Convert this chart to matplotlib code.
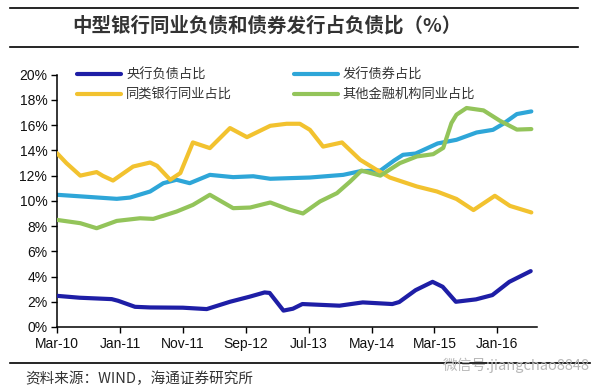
import matplotlib
matplotlib.use("Agg")
import matplotlib.pyplot as plt
from matplotlib.lines import Line2D

# ---- data (month index from Mar-10) ----
tick_pos = [0, 10, 20, 30, 40, 50, 60, 70]
tick_labels = ["Mar-10", "Jan-11", "Nov-11", "Sep-12", "Jul-13", "May-14", "Mar-15", "Jan-16"]
y_ticks = [0, 2, 4, 6, 8, 10, 12, 14, 16, 18, 20]

cb_m = [0, 3.6, 8.7, 9.7, 12.4, 14.8, 20, 23.8, 27.5, 30.6, 33, 33.8, 36, 37.5, 39, 44.9, 48.6, 53.3, 54.4, 57, 59.7, 61.3, 63.4, 66.6, 69.2, 71.9, 75.3]
cb_v = [2.47, 2.32, 2.21, 2.08, 1.6, 1.55, 1.53, 1.42, 2.0, 2.4, 2.74, 2.7, 1.3, 1.45, 1.82, 1.69, 1.95, 1.82, 1.98, 2.92, 3.58, 3.19, 2.0, 2.19, 2.53, 3.58, 4.43]

bond_m = [0, 4.2, 9.5, 11.6, 14.8, 16.9, 19, 21.1, 24.3, 28, 31.2, 33.9, 37, 40.2, 45.5, 48.2, 51.4, 53.6, 55, 57, 60.5, 63.5, 66.7, 69.3, 70.9, 73.1, 75.4]
bond_v = [10.48, 10.34, 10.16, 10.26, 10.74, 11.4, 11.67, 11.4, 12.06, 11.88, 11.95, 11.75, 11.8, 11.85, 12.06, 12.35, 12.4, 13.2, 13.65, 13.75, 14.55, 14.84, 15.42, 15.63, 16.1, 16.88, 17.09]

peer_m = [0, 1.5, 3.7, 6.3, 7.3, 8.9, 12.1, 14.8, 15.9, 18, 19.6, 21.6, 24.3, 27.5, 30.2, 33.9, 36.5, 38.6, 40.2, 42.3, 45.3, 48.2, 50.8, 52.9, 57.2, 60.4, 63.5, 66.2, 69.6, 72, 75.4]
peer_v = [13.78, 12.99, 12.0, 12.28, 11.98, 11.61, 12.72, 13.04, 12.78, 11.67, 12.2, 14.63, 14.18, 15.77, 15.05, 15.95, 16.11, 16.11, 15.63, 14.3, 14.63, 13.25, 12.46, 11.85, 11.14, 10.74, 10.15, 9.27, 10.4, 9.6, 9.08]

other_m = [0, 3.7, 6.3, 9.5, 13.2, 15.3, 19, 21.6, 24.3, 28, 30.7, 33.9, 37, 39.1, 41.8, 44.5, 46.6, 48.4, 51.4, 54.5, 57.2, 59.8, 61.4, 62.7, 63.5, 65.1, 67.8, 70.4, 73.1, 75.4]
other_v = [8.49, 8.23, 7.83, 8.41, 8.62, 8.57, 9.15, 9.68, 10.48, 9.42, 9.47, 9.87, 9.29, 9.0, 9.95, 10.61, 11.53, 12.4, 12.0, 12.99, 13.52, 13.7, 14.2, 16.17, 16.83, 17.36, 17.17, 16.35, 15.65, 15.69]

names = ["央行负债占比", "同类银行同业占比", "发行债券占比", "其他金融机构同业占比"]
colors = ["#1e1ea6", "#f2c22f", "#2ea6d8", "#93c45a"]

CJK = ["Noto Sans CJK SC", "DejaVu Sans"]
LAT = ["Liberation Sans", "DejaVu Sans"]

fig = plt.figure(figsize=(5.94, 3.9), dpi=100)
fig.patch.set_facecolor("white")
ax = fig.add_axes([57 / 594, 1 - 327 / 390, 480 / 594, (327 - 74.7) / 390])

lw = 3.0
l_cb, = ax.plot(cb_m, cb_v, color=colors[0], lw=lw, solid_capstyle="round", solid_joinstyle="round", zorder=4)
l_bond, = ax.plot(bond_m, bond_v, color=colors[2], lw=lw, solid_capstyle="round", solid_joinstyle="round", zorder=2)
l_peer, = ax.plot(peer_m, peer_v, color=colors[1], lw=lw, solid_capstyle="round", solid_joinstyle="round", zorder=3)
l_other, = ax.plot(other_m, other_v, color=colors[3], lw=lw, solid_capstyle="round", solid_joinstyle="round", zorder=3)

ax.set_xlim(0, 76.3)
ax.set_ylim(0, 20)
ax.set_yticks(y_ticks)
ax.set_yticklabels([f"{v}%" for v in y_ticks], fontfamily=LAT, fontsize=10, color="#111111")
ax.set_xticks(tick_pos)
ax.set_xticklabels(tick_labels, fontfamily=LAT, fontsize=10, color="#111111")
ax.tick_params(axis="both", direction="out", length=4, width=1, color="black", pad=3)
for s in ["top", "right"]:
    ax.spines[s].set_visible(False)
for s in ["left", "bottom"]:
    ax.spines[s].set_linewidth(1.1)
    ax.spines[s].set_color("black")

leg = ax.legend([l_cb, l_peer, l_bond, l_other], [names[0], names[1], names[2], names[3]],
                ncol=2, loc="upper left", bbox_to_anchor=(0.042, 1.025), frameon=False,
                borderpad=0, borderaxespad=0, handlelength=3.3, handletextpad=0.4,
                columnspacing=4.7, labelspacing=0.5,
                prop={"family": CJK, "size": 9.5})
for t in leg.get_texts():
    t.set_color("#333333")

# title and frame lines
fig.add_artist(Line2D([10 / 594, 578 / 594], [1 - 8.3 / 390] * 2, color="black", lw=1.2))
fig.add_artist(Line2D([10 / 594, 578 / 594], [1 - 47.3 / 390] * 2, color="black", lw=1.2))
fig.add_artist(Line2D([10 / 594, 590 / 594], [1 - 363.3 / 390] * 2, color="black", lw=1.2))
fig.text(72 / 594, 1 - 26 / 390, "中型银行同业负债和债券发行占负债比（%）", fontsize=14, fontweight="bold",
         family=CJK, color="#333333", ha="left", va="center")
fig.text(25 / 594, 1 - 379 / 390, "资料来源：WIND，海通证券研究所", fontsize=10.5,
         family=CJK, color="#333333", ha="left", va="center")
fig.text(590 / 594, 1 - 365 / 390, "微信号:jiangchao8848", fontsize=10.5,
         family=CJK, color="#b8b8b8", ha="right", va="center")

fig.savefig("out.png", dpi=100, facecolor="white")
